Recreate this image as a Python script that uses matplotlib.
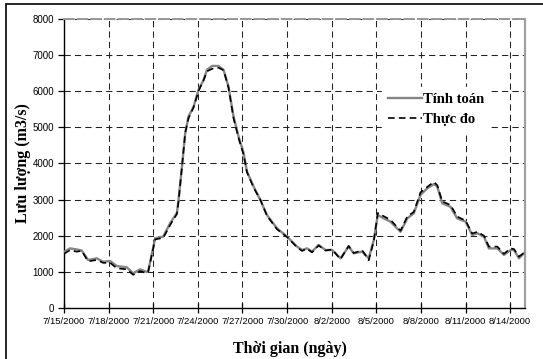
import matplotlib.pyplot as plt
from matplotlib.patches import Rectangle

# days since 7/15/2000
days = [
    0.00, 0.40, 0.86, 1.19, 1.62, 2.20, 2.63, 3.10, 3.55, 4.22,
    4.65, 5.12, 5.57, 5.66, 6.13, 6.67, 7.14, 7.59, 7.70, 7.93,
    8.15, 8.37, 8.71, 9.04, 9.38, 9.61, 9.95, 10.39, 10.73, 11.06,
    11.40, 11.74, 12.07, 12.30, 12.75, 13.20, 13.65, 14.32, 15.00, 15.67,
    16.01, 16.34, 16.68, 17.12, 17.58, 18.03, 18.59, 19.14, 19.48, 20.05,
    20.49, 20.83, 21.10, 21.50, 21.95, 22.29, 22.63, 23.08, 23.52, 23.97,
    24.42, 24.87, 25.10, 25.43, 25.99, 26.44, 27.00, 27.45, 27.79, 28.24,
    28.57, 29.14, 29.58, 30.03, 30.26, 30.59, 31.15,
]

tinh_toan = [
    1550, 1650, 1620, 1590, 1330, 1375, 1280, 1300, 1160, 1125,
    960, 1070, 1000, 1020, 1930, 1975, 2350, 2630, 2990, 3910,
    4840, 5300, 5570, 6035, 6310, 6590, 6700, 6700, 6590, 6125,
    5300, 4740, 4300, 3780, 3360, 2990, 2570, 2205, 1975, 1700,
    1605, 1650, 1560, 1745, 1605, 1605, 1375, 1700, 1515, 1560,
    1375, 1880, 2575, 2480, 2390, 2250, 2110, 2480, 2620, 3130,
    3310, 3430, 3360, 2900, 2800, 2480, 2390, 2020, 2070, 1975,
    1650, 1650, 1470, 1605, 1605, 1375, 1605,
]

thuc_do = [
    1500, 1600, 1560, 1580, 1290, 1330, 1250, 1250, 1100, 1070,
    920, 1020, 960, 1000, 1900, 1940, 2300, 2600, 2950, 3900,
    4850, 5250, 5550, 6000, 6300, 6550, 6620, 6650, 6580, 6100,
    5250, 4700, 4250, 3760, 3330, 3000, 2550, 2180, 1960, 1680,
    1580, 1640, 1540, 1730, 1590, 1620, 1350, 1720, 1520, 1600,
    1320, 1850, 2630, 2540, 2440, 2290, 2140, 2530, 2660, 3200,
    3350, 3490, 3400, 2950, 2850, 2530, 2420, 2060, 2110, 2000,
    1700, 1700, 1500, 1650, 1630, 1420, 1600,
]

tick_days = [0, 3, 6, 9, 12, 15, 18, 21, 24, 27, 30]
tick_labels = [
    "7/15/2000", "7/18/2000", "7/21/2000", "7/24/2000", "7/27/2000",
    "7/30/2000", "8/2/2000", "8/5/2000", "8/8/2000", "8/11/2000",
    "8/14/2000",
]
y_ticks = [0, 1000, 2000, 3000, 4000, 5000, 6000, 7000, 8000]

serif = "Liberation Serif"
sans = "Liberation Sans"

fig = plt.figure(figsize=(5.43, 3.59), dpi=100)
ax = fig.add_axes([0.1179, 0.1421, 0.8490, 0.8050])

# outer frame of the picture
fig.patches.append(
    Rectangle((6 / 543, -0.1), 1.2, 1 - 4 / 359 + 0.1,
              transform=fig.transFigure, fill=False,
              edgecolor="black", linewidth=1.2)
)

ax.plot(days, tinh_toan, color="#858585", linewidth=1.7, label="Tính toán", zorder=3)
ax.plot(days, thuc_do, color="black", linewidth=1.2, dashes=(4, 2.5),
        label="Thực đo", zorder=4)

ax.set_xlim(0, 31)
ax.set_ylim(0, 8000)
ax.set_xticks(tick_days)
ax.set_xticklabels(tick_labels, fontsize=6.8, family=sans)
ax.set_yticks(y_ticks)
ax.set_yticklabels([str(v) for v in y_ticks], fontsize=7, family=sans)

ax.tick_params(axis="x", direction="inout", length=7, width=0.9, pad=3)
ax.tick_params(axis="y", direction="out", length=4, width=0.9, pad=3)

ax.grid(True, color="#222222", linestyle=(0, (6, 4)), linewidth=0.75)
ax.set_axisbelow(True)

ax.spines["left"].set_linewidth(1.0)
ax.spines["bottom"].set_linewidth(1.0)
ax.spines["right"].set_color("#a0a0a0")
ax.spines["right"].set_linewidth(1.6)
ax.spines["top"].set_color("#999999")
ax.spines["top"].set_linewidth(1.4)
ax.spines["top"].set_linestyle((0, (5, 2)))

ax.set_xlabel("Thời gian (ngày)", fontsize=11.5, fontweight="bold", family=serif)
ax.xaxis.set_label_coords(0.49, -0.115)
ax.set_ylabel("Lưu lượng (m3/s)", fontsize=11.5, fontweight="bold", family=serif)
ax.yaxis.set_label_coords(-0.072, 0.5)

leg = ax.legend(
    loc="upper left", bbox_to_anchor=(0.675, 0.79), frameon=True,
    prop={"family": serif, "weight": "bold", "size": 10.5},
    handlelength=2.3, handletextpad=0.1, labelspacing=0.45,
    borderpad=0.4, fancybox=False,
)
leg.get_frame().set_edgecolor("white")
leg.get_frame().set_facecolor("white")
leg.get_frame().set_alpha(1)

fig.savefig("out.png", dpi=100)
